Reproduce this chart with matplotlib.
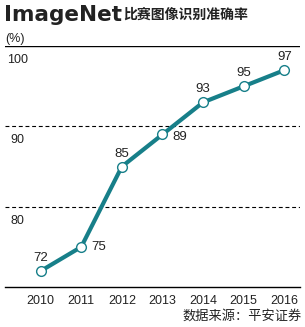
import matplotlib.pyplot as plt

plt.rcParams['font.family'] = ['Liberation Sans', 'Noto Sans CJK SC', 'DejaVu Sans']

years = [2010, 2011, 2012, 2013, 2014, 2015, 2016]
accuracy = [72, 75, 85, 89, 93, 95, 97]
y_ticks = [100, 90, 80]
# where each value label sits relative to its point (dx, dy in points, ha, va)
label_pos = [(0, 5, 'center', 'bottom'), (7, 0, 'left', 'center'),
             (0, 5, 'center', 'bottom'), (7, -2, 'left', 'center'),
             (0, 5, 'center', 'bottom'), (0, 5, 'center', 'bottom'),
             (0, 5, 'center', 'bottom')]

teal = '#177f89'

fig = plt.figure(figsize=(3.05, 3.27), dpi=100)
ax = fig.add_axes([0.016, 0.122, 0.968, 0.737])
ax.set_xlim(2009.12, 2016.39)
ax.set_ylim(70, 100)

for v in y_ticks:
    if v == 100:
        ax.axhline(v, color='black', lw=1.0)
    else:
        ax.axhline(v, color='black', lw=0.8, ls=(0, (3.5, 2.5)))
    ax.text(2009.18 if v == 100 else 2009.25, v - 1.0, str(v),
            fontsize=9, va='top', ha='left', color='#222222')
ax.axhline(70, color='black', lw=1.0, clip_on=False)

ax.plot(years, accuracy, color=teal, lw=3, marker='o', ms=7,
        mfc='white', mec=teal, mew=1.0, zorder=3)
for x, y, (dx, dy, ha, va) in zip(years, accuracy, label_pos):
    ax.annotate(str(y), (x, y), xytext=(dx, dy), textcoords='offset points',
                ha=ha, va=va, fontsize=9.5, color='#222222')

ax.set_xticks(years)
ax.set_xticklabels([str(y) for y in years], fontsize=9, color='#222222')
ax.tick_params(axis='x', length=0, pad=6)
ax.set_yticks([])
for s in ax.spines.values():
    s.set_visible(False)

fig.text(0.013, 0.985, 'ImageNet', fontsize=15.5, fontweight='bold',
         family='DejaVu Sans', va='top', ha='left', color='#222222')
fig.text(0.403, 0.975, '比赛图像识别准确率', fontsize=10, fontweight='bold',
         family='Noto Sans CJK SC', va='top', ha='left', color='#222222')
fig.text(0.016, 0.88, '(%)', fontsize=9, va='center', ha='left', color='#222222')
fig.text(0.99, 0.033, '数据来源：平安证券', fontsize=9.5, ha='right', va='center',
         family=['Noto Sans CJK SC'], color='#222222')

fig.savefig('out.png', dpi=100)
